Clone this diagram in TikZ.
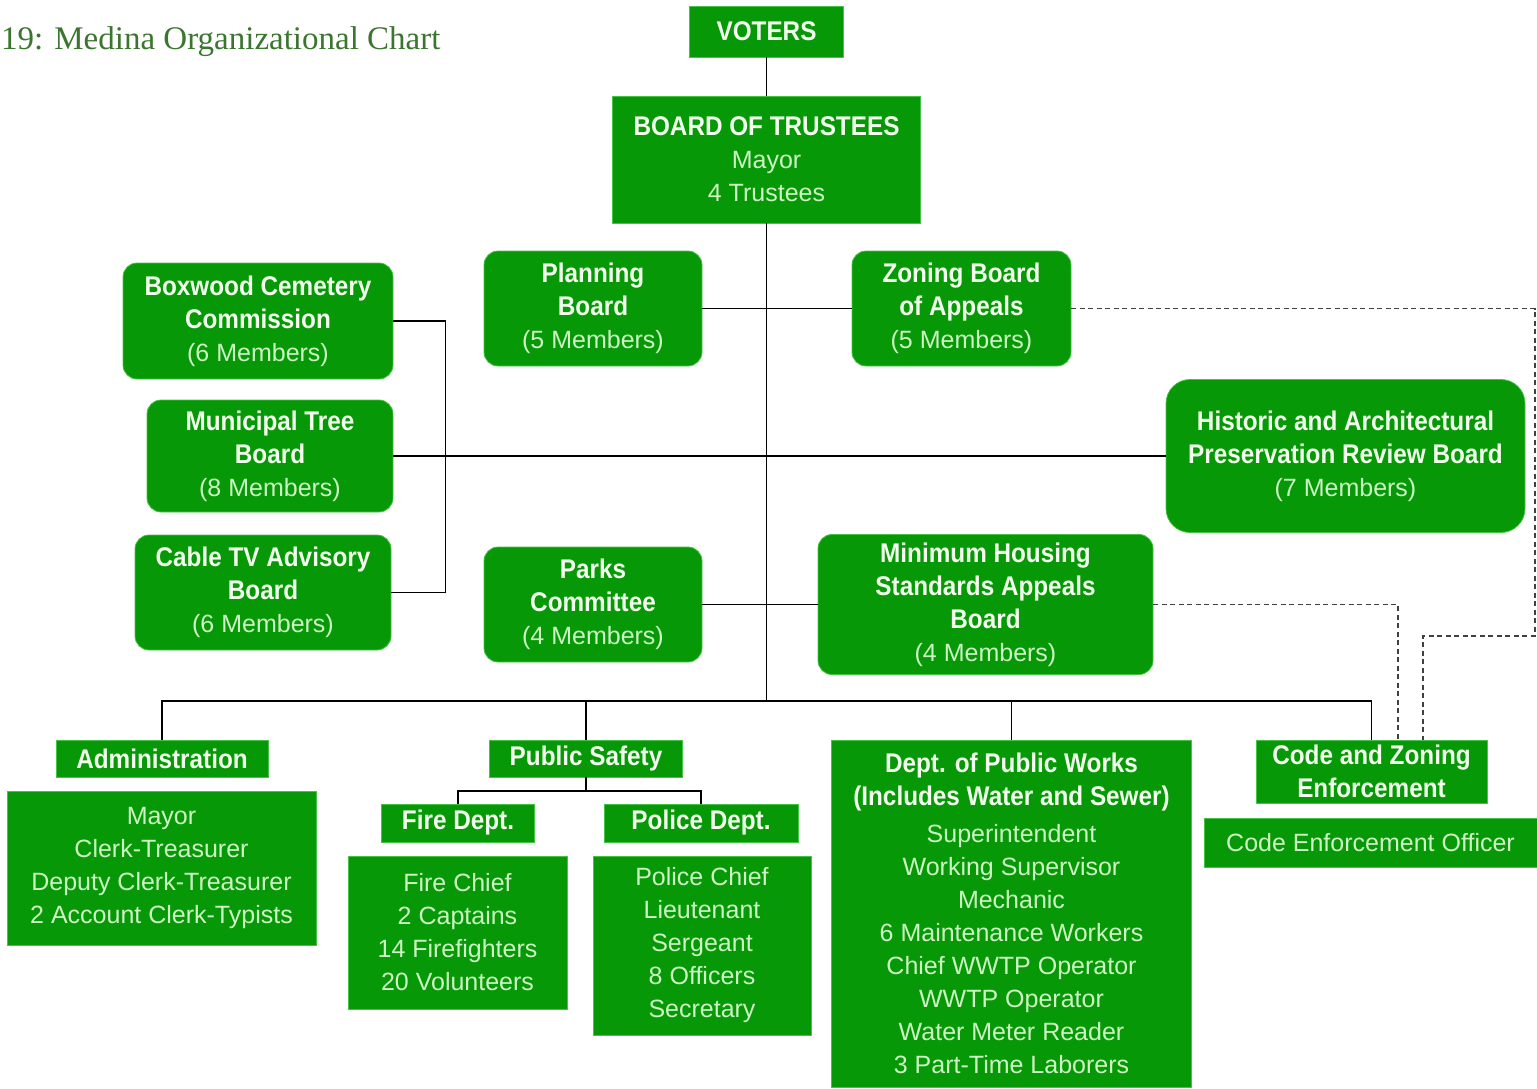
\documentclass[tikz,border=0pt]{standalone}
\usepackage{fontspec}
\setmainfont{Liberation Sans}
\newfontfamily\titlefont{Liberation Serif}
\newfontfamily\hdrfont{Liberation Sans}[FakeStretch=0.9]
\definecolor{ogreen}{RGB}{6,152,6}
\definecolor{oedge}{RGB}{70,195,70}
\definecolor{tlight}{RGB}{205,245,195}
\definecolor{twhite}{RGB}{242,255,236}
\definecolor{ttitle}{RGB}{58,118,46}
\newcommand{\hd}[1]{{\hdrfont\bfseries\fontsize{27}{33}\selectfont\color{twhite}#1}}
\begin{document}
\begin{tikzpicture}[x=1pt,y=-1pt,
  box/.style={fill=ogreen,draw=oedge,line width=0.8pt,align=center,inner sep=0pt,
    text=tlight,font=\fontsize{25}{33}\selectfont},
  rbox/.style={box,rounded corners=14pt},
  wire/.style={line width=1.4pt,black},
  dline/.style={line width=1.3pt,black!75,dash pattern=on 5pt off 3.5pt}]
\useasboundingbox (0,0) rectangle (1537,1089);

% title
\node[anchor=base west,text=ttitle,font=\titlefont\fontsize{33}{40}\selectfont,inner sep=0pt]
  (title) at (1,50) {19: Medina Organizational Chart};

% top
\node[box,minimum width=154pt,minimum height=51pt] (voters) at (766.5,31.5) {\hd{VOTERS}};
\node[box,minimum width=308pt,minimum height=127pt] (bot) at (766.5,159.5)
  {\hd{BOARD OF TRUSTEES}\\Mayor\\4 Trustees};

% boards
\node[rbox,minimum width=218pt,minimum height=115pt] (planning) at (593,308.5)
  {\hd{Planning}\\\hd{Board}\\(5 Members)};
\node[rbox,minimum width=219pt,minimum height=115pt] (zoning) at (961.5,308.5)
  {\hd{Zoning Board}\\\hd{of Appeals}\\(5 Members)};
\node[rbox,minimum width=270pt,minimum height=116pt] (boxwood) at (258,321)
  {\hd{Boxwood Cemetery}\\\hd{Commission}\\(6 Members)};
\node[rbox,minimum width=246pt,minimum height=112pt] (tree) at (270,456)
  {\hd{Municipal Tree}\\\hd{Board}\\(8 Members)};
\node[rbox,minimum width=256pt,minimum height=115pt] (cable) at (263,592.5)
  {\hd{Cable TV Advisory}\\\hd{Board}\\(6 Members)};
\node[box,rounded corners=24pt,minimum width=359pt,minimum height=153pt] (historic) at (1345.5,456)
  {\hd{Historic and Architectural}\\\hd{Preservation Review Board}\\(7 Members)};
\node[rbox,minimum width=218pt,minimum height=115pt] (parks) at (593,604.5)
  {\hd{Parks}\\\hd{Committee}\\(4 Members)};
\node[rbox,minimum width=335pt,minimum height=140pt] (housing) at (985.5,604.5)
  {\hd{Minimum Housing}\\\hd{Standards Appeals}\\\hd{Board}\\(4 Members)};

% departments
\node[box,minimum width=212pt,minimum height=37pt] (admin) at (162,758.5) {\hd{Administration}};
\node[box,minimum width=309pt,minimum height=154pt] (admindet) at (161.5,868)
  {Mayor\\Clerk-Treasurer\\Deputy Clerk-Treasurer\\2 Account Clerk-Typists};
\node[box,minimum width=193pt,minimum height=37pt] (pubsafety) at (586,758.5) {\hd{Public Safety}};
\node[box,minimum width=153pt,minimum height=38pt] (fire) at (458,823) {\hd{Fire Dept.}};
\node[box,minimum width=219pt,minimum height=153pt] (firedet) at (457.5,932.5)
  {Fire Chief\\2 Captains\\14 Firefighters\\20 Volunteers};
\node[box,minimum width=194pt,minimum height=38pt] (police) at (701,823) {\hd{Police Dept.}};
\node[box,minimum width=218pt,minimum height=179pt] (policedet) at (702,945.5)
  {Police Chief\\Lieutenant\\Sergeant\\8 Officers\\Secretary};
\node[box,minimum width=360pt,minimum height=347pt] (dpw) at (1011.5,913.5)
  {\hd{Dept. of Public Works}\\\hd{(Includes Water and Sewer)}\\[4pt]Superintendent\\Working Supervisor\\Mechanic\\6 Maintenance Workers\\Chief WWTP Operator\\WWTP Operator\\Water Meter Reader\\3 Part-Time Laborers};
\node[box,minimum width=231pt,minimum height=63pt] (code) at (1371.5,771.5)
  {\hd{Code and Zoning}\\\hd{Enforcement}};
\node[box,minimum width=333pt,minimum height=49pt] (codedet) at (1370.5,842.5)
  {Code Enforcement Officer};

% solid connectors
\coordinate (bus) at (766.5,701);
\draw[wire] (voters) -- (bot);
\draw[wire] (bot.south) -- (bus);
\draw[wire] (planning.east) -- (zoning.west);
\draw[wire] (tree.east) -- (historic.west);
\draw[wire] (parks.east) -- (housing.west);
\draw[wire] (boxwood.east) -- ++(52,0) |- (cable.east);
\draw[wire] (admin.north) |- (code.north |- bus) -- (code.north);
\draw[wire] (pubsafety.north) -- (pubsafety.north |- bus);
\draw[wire] (dpw.north) -- (dpw.north |- bus);
\coordinate (psbus) at (586,791);
\draw[wire] (pubsafety.south) -- (psbus);
\draw[wire] (fire.north) |- (police.north |- psbus) -- (police.north);

% dashed connectors
\coordinate (dzr) at (1535,308.5);
\coordinate (dzb) at (1535,636);
\coordinate (dz) at (1423,636);
\draw[dline] (zoning.east) -- (dzr) -- (dzb) -- (dz) -- (dz |- code.north);
\coordinate (dh) at (1398,604.5);
\draw[dline] (housing.east) -- (dh) -- (dh |- code.north);
\end{tikzpicture}
\end{document}
